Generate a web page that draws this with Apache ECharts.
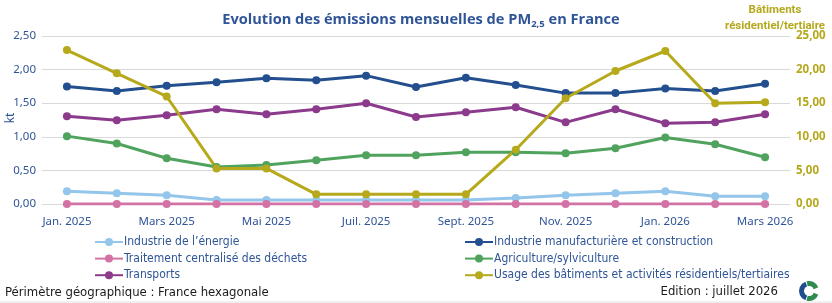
<!DOCTYPE html>
<html><head><meta charset="utf-8">
<script src="https://cdn.jsdelivr.net/npm/echarts@6/dist/echarts.min.js"></script>
<style>html,body{margin:0;padding:0;background:#fff}#c{width:832px;height:303px}</style>
</head><body><div id="c"></div>
<script>
const categories = ["Jan. 2025","Févr. 2025","Mars 2025","Avr. 2025","Mai 2025","Juin 2025","Juil. 2025","Août 2025","Sept. 2025","Oct. 2025","Nov. 2025","Déc. 2025","Jan. 2026","Févr. 2026","Mars 2026"];
const energie = [0.19,0.16,0.13,0.06,0.06,0.06,0.06,0.06,0.06,0.09,0.13,0.16,0.19,0.115,0.115];
const manufacturiere = [1.75,1.68,1.76,1.81,1.87,1.84,1.91,1.74,1.88,1.77,1.65,1.65,1.72,1.68,1.79];
const dechets = [0,0,0,0,0,0,0,0,0,0,0,0,0,0,0];
const agriculture = [1.01,0.90,0.68,0.55,0.58,0.65,0.725,0.725,0.77,0.77,0.755,0.83,0.99,0.89,0.695];
const transports = [1.305,1.245,1.32,1.41,1.335,1.41,1.50,1.295,1.365,1.44,1.215,1.41,1.20,1.215,1.335];
const batiments = [22.9,19.45,16.0,5.3,5.3,1.44,1.44,1.44,1.44,8.08,15.73,19.79,22.77,14.98,15.13];
const leftTicks = {min:0,max:2.5,interval:0.5};
const rightTicks = {min:0,max:25,interval:5};

const NARROW = "'Liberation Sans Narrow','DejaVu Sans Condensed','Roboto Condensed',sans-serif";
const BLUE_TXT = '#2f5597';
const OLIVE = '#b5a81c';
const fmt = v => v.toFixed(2).replace('.', ',');

function ser(name, data, color, axis) {
  return {
    name, type:'line', data, yAxisIndex: axis||0,
    symbol:'circle', symbolSize:8, showSymbol:true,
    lineStyle:{width:3, color}, itemStyle:{color},
    emphasis:{disabled:true}, z: 2
  };
}

const chart = echarts.init(document.getElementById('c'), null, {renderer:'canvas'});
chart.setOption({
  animation:false,
  backgroundColor:'#fff',
  title:{
    text:'{t|Evolution des émissions mensuelles de PM}{s|2,5}{t| en France}',
    left:416, top:6, textAlign:'center',
    textStyle:{rich:{
      t:{fontSize:14.6,fontWeight:'bold',color:BLUE_TXT,fontFamily:"'Open Sans',sans-serif"},
      s:{fontSize:9.5,fontWeight:'bold',color:BLUE_TXT,verticalAlign:'bottom',padding:[8,0,0,0],fontFamily:"'Open Sans',sans-serif"}
    }}
  },
  grid:{left:42,right:42,top:36,bottom:99,containLabel:false},
  xAxis:{
    type:'category', data:categories, boundaryGap:true,
    axisLine:{show:false}, axisTick:{show:false},
    axisLabel:{interval:1, color:BLUE_TXT, fontSize:11.5, margin:12, fontFamily:"'Noto Sans',sans-serif"}
  },
  yAxis:[
    {type:'value', min:leftTicks.min, max:leftTicks.max, interval:leftTicks.interval,
     axisLine:{show:false}, axisTick:{show:false},
     splitLine:{lineStyle:{color:'#d9d9d9',width:1}},
     axisLabel:{formatter:fmt, color:BLUE_TXT, fontSize:11.5, margin:6, fontFamily:"'Noto Sans',sans-serif"}},
    {type:'value', min:rightTicks.min, max:rightTicks.max, interval:rightTicks.interval, position:'right',
     axisLine:{show:false}, axisTick:{show:false}, splitLine:{show:false},
     axisLabel:{formatter:fmt, color:OLIVE, fontSize:11.5, fontWeight:'bold', margin:6, fontFamily:"'Noto Sans',sans-serif"}}
  ],
  legend:[
    {data:['Industrie de l\u2019énergie','Traitement centralisé des déchets','Transports'],
     orient:'vertical', left:89, top:231, itemWidth:28, itemHeight:10, itemGap:4.6,
     textStyle:{color:BLUE_TXT,fontSize:12,lineHeight:12,fontFamily:NARROW,padding:[0,0,0,-4]}, selectedMode:false},
    {data:['Industrie manufacturière et construction','Agriculture/sylviculture','Usage des bâtiments et activités résidentiels/tertiaires'],
     orient:'vertical', left:459, top:231, itemWidth:28, itemHeight:10, itemGap:4.6,
     textStyle:{color:BLUE_TXT,fontSize:12,lineHeight:12,fontFamily:NARROW,padding:[0,0,0,-4]}, selectedMode:false}
  ],
  series:[
    ser('Industrie de l\u2019énergie', energie, '#93c6ea'),
    ser('Industrie manufacturière et construction', manufacturiere, '#234f8f'),
    ser('Traitement centralisé des déchets', dechets, '#d372a4'),
    ser('Agriculture/sylviculture', agriculture, '#4fa35d'),
    ser('Transports', transports, '#8b3a8c'),
    ser('Usage des bâtiments et activités résidentiels/tertiaires', batiments, '#b6a91b', 1)
  ],
  graphic:[
    {type:'text', x:11, y:118, rotation:Math.PI/2, style:{text:'kt', fill:BLUE_TXT, font:"12px 'Noto Sans',sans-serif", textAlign:'center', textVerticalAlign:'middle'}},
    {type:'text', x:775, y:10, style:{text:'Bâtiments', fill:OLIVE, font:"bold 11.5px Roboto,sans-serif", textAlign:'center', textVerticalAlign:'middle'}},
    {type:'text', x:775, y:26, style:{text:'résidentiel/tertiaire', fill:OLIVE, font:"bold 11.5px Roboto,sans-serif", textAlign:'center', textVerticalAlign:'middle'}},
    {type:'text', x:5, y:293, style:{text:'Périmètre géographique : France hexagonale', fill:'#1a1a1a', font:"13px "+NARROW, textAlign:'left', textVerticalAlign:'middle'}},
    {type:'text', x:778, y:292, style:{text:'Edition : juillet 2026', fill:'#1a1a1a', font:"13px "+NARROW, textAlign:'right', textVerticalAlign:'middle'}},
    {type:'line', shape:{x1:0,y1:302,x2:832,y2:302}, style:{stroke:'#e0e0e0',lineWidth:1}},
    {type:'sector', shape:{cx:809,cy:291,r:10,r0:5,startAngle:Math.PI*0.62,endAngle:Math.PI*1.38}, style:{fill:'#1f4e8c'}},
    {type:'sector', shape:{cx:809,cy:291,r:10,r0:5,startAngle:Math.PI*1.42,endAngle:Math.PI*1.88}, style:{fill:'#2e8a4e'}},
    {type:'sector', shape:{cx:809,cy:291,r:10,r0:5,startAngle:Math.PI*0.12,endAngle:Math.PI*0.58}, style:{fill:'#2e8a4e'}}
  ]
});
</script></body></html>
